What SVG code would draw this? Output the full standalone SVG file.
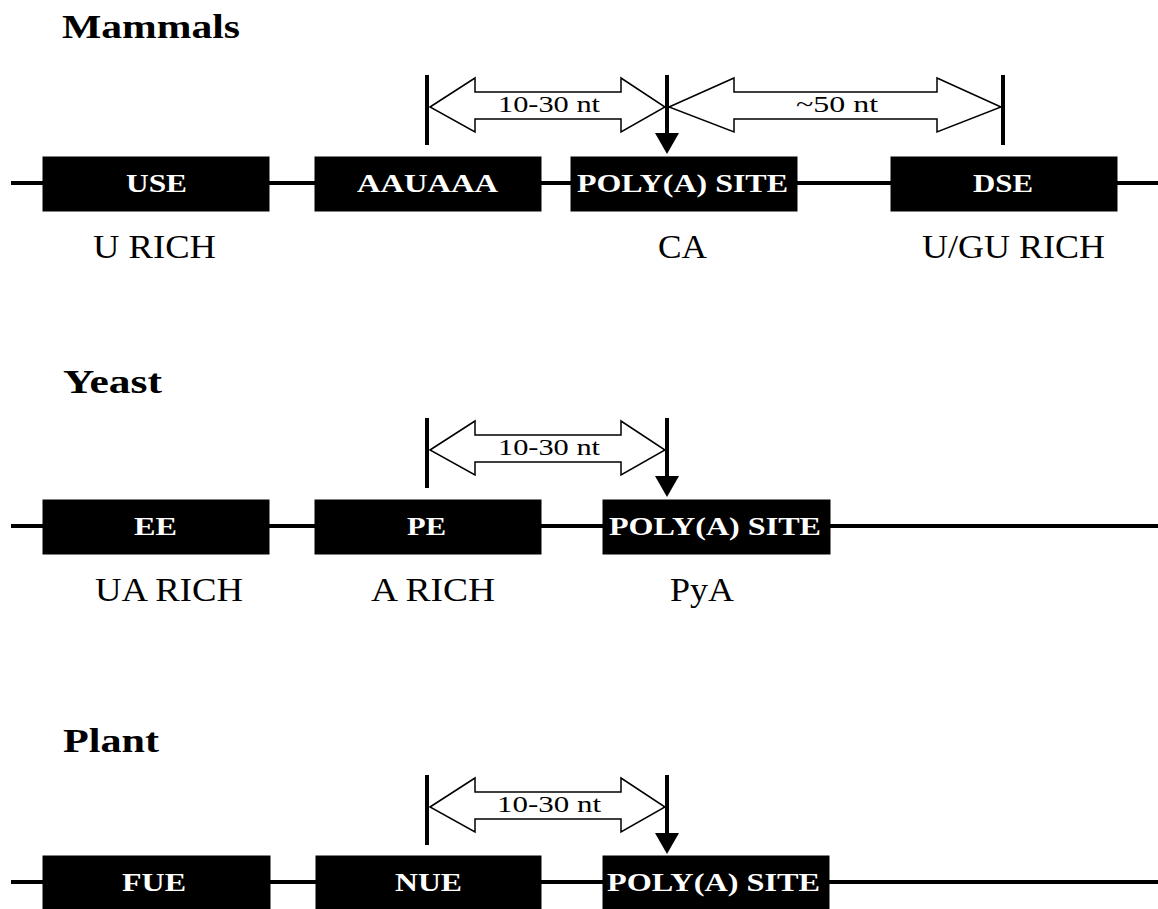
<svg xmlns="http://www.w3.org/2000/svg" width="1158" height="909" viewBox="0 0 1158 909">
<style>
.title{font-family:"Liberation Serif","DejaVu Serif",serif;font-weight:bold;font-size:34px;fill:#000}
.box{fill:#000;stroke:#000;stroke-width:1}
.blabel{font-family:"Liberation Serif","DejaVu Serif",serif;font-weight:bold;font-size:25px;fill:#fff}
.label{font-family:"Liberation Serif","DejaVu Serif",serif;font-size:33px;fill:#000}
.alabel{font-family:"Liberation Serif","DejaVu Serif",serif;font-size:24px;fill:#000}
.line{stroke:#000;stroke-width:4;fill:none}
.bar{stroke:#000;stroke-width:4;fill:none}
.darrow{fill:#fff;stroke:#000;stroke-width:1.5;stroke-linejoin:miter}
</style>
<rect width="1158" height="909" fill="#fff"/>

<!-- Mammals -->
<text class="title" x="62" y="38" textLength="178" lengthAdjust="spacingAndGlyphs">Mammals</text>
<g id="connectors">
  <!-- mammals -->
  <line class="line" x1="11" y1="183" x2="1158" y2="183"/>
  <line class="bar" x1="427" y1="75" x2="427" y2="145"/>
  <line class="bar" x1="1003" y1="75" x2="1003" y2="145"/>
  <line class="bar" x1="667" y1="75" x2="667" y2="136"/>
  <polygon points="655,133 679,133 667,154" fill="#000"/>
  <polygon class="darrow" points="430,107 475,78 475,92 621,92 621,78 665,107 621,132 621,119 475,119 475,132"/>
  <polygon class="darrow" points="669,107 734,78 734,92 937,92 937,78 1001,107 937,132 937,119 734,119 734,132"/>
  <!-- yeast -->
  <line class="line" x1="11" y1="526" x2="1158" y2="526"/>
  <line class="bar" x1="427" y1="418" x2="427" y2="488"/>
  <line class="bar" x1="667" y1="418" x2="667" y2="479"/>
  <polygon points="655,476 679,476 667,497" fill="#000"/>
  <polygon class="darrow" points="430,450 475,421 475,435 621,435 621,421 665,450 621,475 621,462 475,462 475,475"/>
  <!-- plant -->
  <line class="line" x1="11" y1="882" x2="1158" y2="882"/>
  <line class="bar" x1="427" y1="775" x2="427" y2="845"/>
  <line class="bar" x1="667" y1="775" x2="667" y2="836"/>
  <polygon points="655,833 679,833 667,854" fill="#000"/>
  <polygon class="darrow" points="430,807 475,778 475,792 621,792 621,778 665,807 621,832 621,819 475,819 475,832"/>
</g>
<text class="alabel" x="498" y="112" textLength="102" lengthAdjust="spacingAndGlyphs">10-30 nt</text>
<text class="alabel" x="796" y="112" textLength="82" lengthAdjust="spacingAndGlyphs">~50 nt</text>
<text class="alabel" x="498" y="455" textLength="102" lengthAdjust="spacingAndGlyphs">10-30 nt</text>
<text class="alabel" x="497" y="812" textLength="104" lengthAdjust="spacingAndGlyphs">10-30 nt</text>

<g id="use"><rect class="box" x="43" y="157" width="226" height="54"/><text class="blabel" x="126" y="192" textLength="61" lengthAdjust="spacingAndGlyphs">USE</text><text class="label" x="93" y="258" textLength="123" lengthAdjust="spacingAndGlyphs">U RICH</text></g>
<g id="aauaaa"><rect class="box" x="315" y="157" width="226" height="54"/><text class="blabel" x="357" y="192" textLength="141" lengthAdjust="spacingAndGlyphs">AAUAAA</text></g>
<g id="polya-m"><rect class="box" x="571" y="157" width="226" height="54"/><text class="blabel" x="577" y="192" textLength="211" lengthAdjust="spacingAndGlyphs">POLY(A) SITE</text><text class="label" x="658" y="258" textLength="49" lengthAdjust="spacingAndGlyphs">CA</text></g>
<g id="dse"><rect class="box" x="891" y="157" width="226" height="54"/><text class="blabel" x="973" y="192" textLength="60" lengthAdjust="spacingAndGlyphs">DSE</text><text class="label" x="922" y="258" textLength="183" lengthAdjust="spacingAndGlyphs">U/GU RICH</text></g>

<!-- Yeast -->
<text class="title" x="63" y="393" textLength="99" lengthAdjust="spacingAndGlyphs">Yeast</text>
<g id="ee"><rect class="box" x="43" y="500" width="226" height="54"/><text class="blabel" x="134" y="535" textLength="43" lengthAdjust="spacingAndGlyphs">EE</text><text class="label" x="95" y="601" textLength="148" lengthAdjust="spacingAndGlyphs">UA RICH</text></g>
<g id="pe"><rect class="box" x="315" y="500" width="226" height="54"/><text class="blabel" x="407" y="535" textLength="39" lengthAdjust="spacingAndGlyphs">PE</text><text class="label" x="371" y="601" textLength="124" lengthAdjust="spacingAndGlyphs">A RICH</text></g>
<g id="polya-y"><rect class="box" x="603" y="500" width="227" height="54"/><text class="blabel" x="609" y="535" textLength="212" lengthAdjust="spacingAndGlyphs">POLY(A) SITE</text><text class="label" x="670" y="601" textLength="64" lengthAdjust="spacingAndGlyphs">PyA</text></g>

<!-- Plant -->
<text class="title" x="63" y="752" textLength="96" lengthAdjust="spacingAndGlyphs">Plant</text>
<g id="fue"><rect class="box" x="43" y="856" width="227" height="60"/><text class="blabel" x="122" y="891" textLength="64" lengthAdjust="spacingAndGlyphs">FUE</text></g>
<g id="nue"><rect class="box" x="316" y="856" width="225" height="60"/><text class="blabel" x="395" y="891" textLength="67" lengthAdjust="spacingAndGlyphs">NUE</text></g>
<g id="polya-p"><rect class="box" x="603" y="856" width="226" height="60"/><text class="blabel" x="607" y="891" textLength="213" lengthAdjust="spacingAndGlyphs">POLY(A) SITE</text></g>
</svg>
